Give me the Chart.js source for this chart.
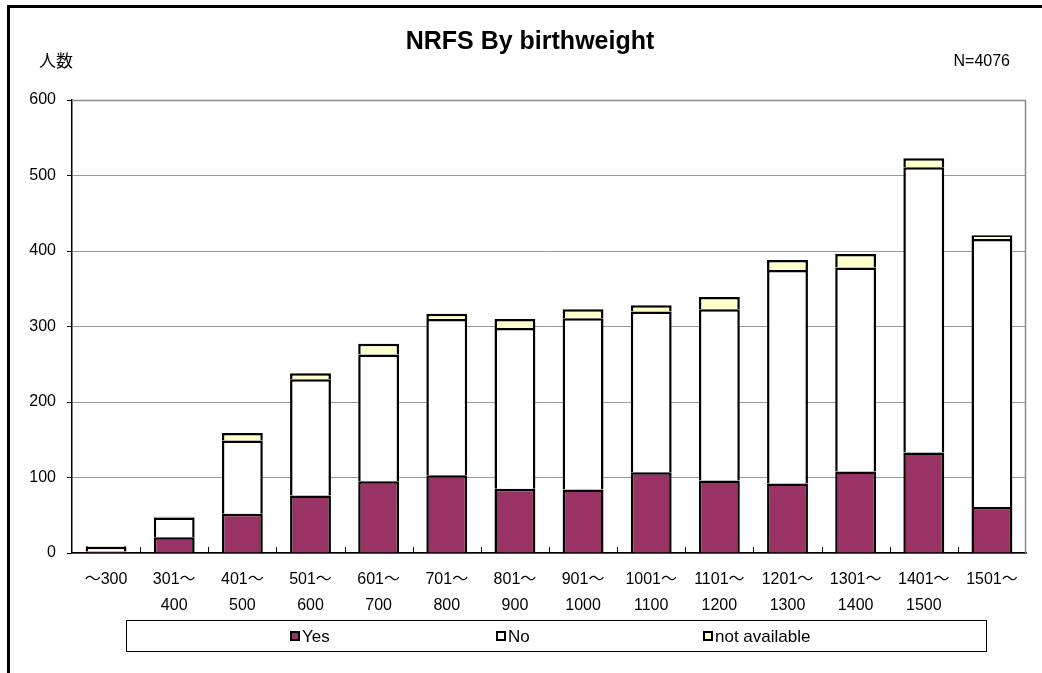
<!DOCTYPE html>
<html>
<head>
<meta charset="utf-8">
<script src="https://cdn.jsdelivr.net/npm/chart.js@4"></script>
<style>
html,body{margin:0;padding:0;background:#fff;}
#wrap{position:relative;width:1042px;height:673px;}
</style>
</head>
<body>
<div id="wrap"><canvas id="c" width="1042" height="673"></canvas></div>
<script>
const categories = [["～300"],["301～","400"],["401～","500"],["501～","600"],["601～","700"],["701～","800"],["801～","900"],["901～","1000"],["1001～","1100"],["1101～","1200"],["1201～","1300"],["1301～","1400"],["1401～","1500"],["1501～"]];
const yesValues = [2, 21, 52, 76, 95, 103, 85, 84, 107, 96, 92, 108, 133, 61];
const noValues  = [6, 26, 97, 154, 168, 207, 213, 227, 213, 227, 283, 270, 378, 355];
const naValues  = [1, 1, 10, 8, 14, 7, 12, 12, 8, 16, 13, 18, 12, 5];
const seriesNames = ["Yes", "No", "not available"];
const yTicks = [0, 100, 200, 300, 400, 500, 600];
const titleText = "NRFS By birthweight";
const yTitle = "人数";
const nText = "N=4076";

const FONT = "'Liberation Sans', Arial, 'Noto Sans CJK JP', sans-serif";
const colors = ["#993366", "#FFFFFF", "#FFFFCC"];

const decor = {
  id: 'decor',
  beforeDraw(chart) {
    const ctx = chart.ctx;
    ctx.save();
    ctx.fillStyle = '#fff';
    ctx.fillRect(0, 0, chart.width, chart.height);
    ctx.restore();
  },
  afterDraw(chart) {
    const ctx = chart.ctx;
    const a = chart.chartArea;
    ctx.save();
    // outer frame
    ctx.fillStyle = '#000';
    ctx.fillRect(7, 5, chart.width - 7, 3);
    ctx.fillRect(7, 5, 3, chart.height - 5);
    // plot border top/right
    ctx.strokeStyle = '#888';
    ctx.lineWidth = 1.5;
    ctx.beginPath();
    ctx.moveTo(a.left, a.top + 0.5);
    ctx.lineTo(a.right - 0.5, a.top + 0.5);
    ctx.lineTo(a.right - 0.5, a.bottom);
    ctx.stroke();
    // inside category ticks
    const n = categories.length;
    const w = (a.right - a.left) / n;
    ctx.strokeStyle = '#000';
    ctx.lineWidth = 1;
    ctx.beginPath();
    for (let i = 1; i < n; i++) {
      const x = Math.round(a.left + i * w) + 0.5;
      ctx.moveTo(x, a.bottom);
      ctx.lineTo(x, a.bottom - 6);
    }
    ctx.stroke();
    // texts
    ctx.fillStyle = '#000';
    ctx.textBaseline = 'middle';
    ctx.textAlign = 'center';
    ctx.font = 'bold 25px ' + FONT;
    ctx.fillText(titleText, 530, 42);
    ctx.font = '17px ' + FONT;
    ctx.textAlign = 'left';
    ctx.fillText(yTitle, 39, 62);
    ctx.font = '16px ' + FONT;
    ctx.textAlign = 'right';
    ctx.fillText(nText, 1010, 62);
    // legend
    ctx.strokeStyle = '#000';
    ctx.lineWidth = 1;
    ctx.strokeRect(126.5, 620.5, 860, 31);
    const lx = [291, 497, 704];
    ctx.textAlign = 'left';
    ctx.font = '17px ' + FONT;
    chart.data.datasets.forEach((ds, i) => {
      ctx.fillStyle = ds.backgroundColor;
      ctx.fillRect(lx[i], 632, 8, 8);
      ctx.lineWidth = 2;
      ctx.strokeRect(lx[i], 632, 8, 8);
      ctx.fillStyle = '#000';
      ctx.fillText(ds.label, lx[i] + 11, 637);
    });
    ctx.restore();
  }
};

new Chart(document.getElementById('c'), {
  type: 'bar',
  data: {
    labels: categories,
    datasets: [
      { label: seriesNames[0], data: yesValues, backgroundColor: colors[0] },
      { label: seriesNames[1], data: noValues, backgroundColor: colors[1] },
      { label: seriesNames[2], data: naValues, backgroundColor: colors[2] }
    ].map(d => Object.assign(d, { borderColor: '#000', borderWidth: 2.5, borderSkipped: 'start', categoryPercentage: 1, barPercentage: 0.6 }))
  },
  options: {
    responsive: false,
    animation: false,
    layout: { padding: { left: 10, right: 16, top: 100, bottom: 0 } },
    plugins: { legend: { display: false }, title: { display: false }, tooltip: { enabled: false } },
    scales: {
      x: {
        stacked: true,
        grid: { display: false },
        border: { display: true, color: '#000', width: 1.5 },
        ticks: { color: '#000', font: { family: FONT, size: 16, lineHeight: 1.6 }, maxRotation: 0, autoSkip: false, padding: 6 },
        afterFit(s) { s.height = 120; }
      },
      y: {
        stacked: true,
        min: 0, max: 600,
        afterBuildTicks(s) { s.ticks = yTicks.map(v => ({ value: v })); },
        grid: { color: '#999', lineWidth: 1, tickColor: '#000', tickLength: 5 },
        border: { display: true, color: '#000', width: 1.5 },
        ticks: { color: '#000', font: { family: FONT, size: 16 }, padding: 11 },
        afterFit(s) { s.width = 62; }
      }
    }
  },
  plugins: [decor]
});
</script>
</body>
</html>
